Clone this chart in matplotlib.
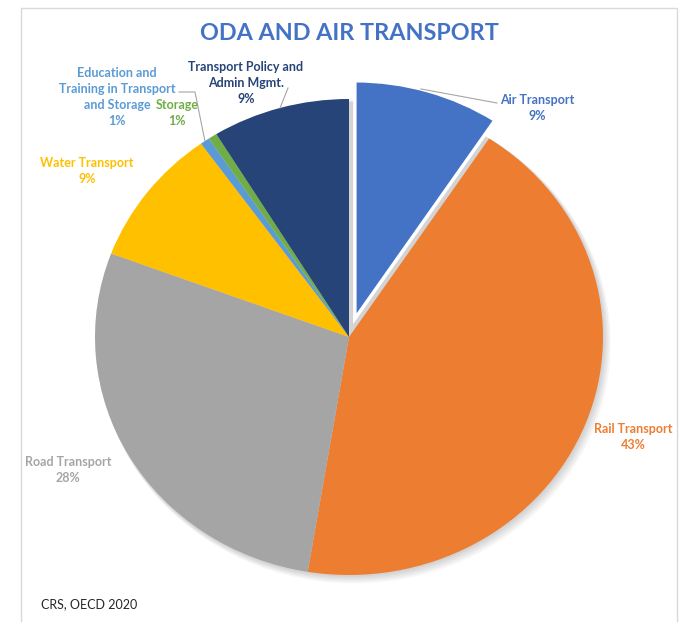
import matplotlib
matplotlib.use('Agg')
import matplotlib.pyplot as plt
import numpy as np
from matplotlib.patches import Rectangle, Ellipse
from matplotlib.lines import Line2D

# ---- data ----
categories = ["Air Transport", "Rail Transport", "Road Transport", "Water Transport",
              "Education and\nTraining in Transport\nand Storage", "Storage",
              "Transport Policy and\nAdmin Mgmt."]
shares = [9.3, 43.3, 28.1, 9.4, 0.6, 0.55, 8.75]
colors = ["#4472C4", "#ED7D31", "#A5A5A5", "#FFC000", "#5B9BD5", "#70AD47", "#264478"]
title = "ODA AND AIR TRANSPORT"
source = "CRS, OECD 2020"

# ---- layout ----
W, H = 682, 622
fig = plt.figure(figsize=(W / 100, H / 100), dpi=100)
fig.patch.set_facecolor('white')


def fx(x):
    return x / W


def fy(y):
    return 1 - y / H


# frame
fig.add_artist(Rectangle((fx(21), fy(640)), fx(677) - fx(21), fy(8) - fy(640),
                         transform=fig.transFigure, fill=False, edgecolor='#D9D9D9', linewidth=1))

cx, cy, rx, ry = 349, 337, 254, 238
lim = 1.2
ax = fig.add_axes([fx(cx - rx * lim), fy(cy + ry * lim), 2 * rx * lim / W, 2 * ry * lim / H])

# soft shadow
for k in range(1, 6):
    ax.add_patch(Ellipse((k * 0.004, -k * 0.005), 2.0 + 0.004 * k, 2.0 + 0.004 * k,
                         facecolor='#000000', alpha=0.035, edgecolor='none', zorder=0))

explode = [0.08, 0, 0, 0, 0, 0, 0]
wedges, _ = ax.pie(shares, colors=colors, startangle=90, counterclock=False,
                   explode=explode, wedgeprops=dict(linewidth=0))
wedges[0].set_edgecolor('white')
wedges[0].set_linewidth(2.5)
ax.set_aspect('auto')
ax.set_xlim(-lim, lim)
ax.set_ylim(-lim, lim)
ax.axis('off')

total = sum(shares)
labels = [f"{c}\n{v / total * 100:.0f}%" for c, v in zip(categories, shares)]

label_pos = [(537, 108), (633, 437), (68, 470), (87, 171), (117, 97), (177, 113), (246, 83)]
font = 'Lato'
line_h = 16
for lab, col, (px, py) in zip(labels, colors, label_pos):
    lines = lab.split('\n')
    n = len(lines)
    for i, ln in enumerate(lines):
        yy = py + (i - (n - 1) / 2) * line_h
        fig.text(fx(px), fy(yy), ln, ha='center', va='center', color=col, fontsize=9,
                 fontweight='bold', family=font)


def arc_point(w, t):
    th = np.deg2rad(w.theta1 + t * (w.theta2 - w.theta1))
    p = np.array(w.center) + w.r * np.array([np.cos(th), np.sin(th)])
    return fig.transFigure.inverted().transform(ax.transData.transform(p))


lc = '#A6A6A6'
# Air leader
p = arc_point(wedges[0], 0.55)
fig.add_artist(Line2D([p[0], fx(497)], [p[1], fy(103)], transform=fig.transFigure, color=lc, lw=0.8))
# Policy leader
p = arc_point(wedges[6], 0.5)
fig.add_artist(Line2D([p[0], fx(288)], [p[1], fy(88)], transform=fig.transFigure, color=lc, lw=0.8))
# Education leader
p = arc_point(wedges[4], 0.5)
fig.add_artist(Line2D([fx(179), fx(195), p[0]], [fy(92), fy(92), p[1]], transform=fig.transFigure,
                      color=lc, lw=0.8))

fig.text(fx(349), fy(33), title, ha='center', va='center', color='#4472C4', fontsize=16.8,
         fontweight='bold', family=font)
fig.text(fx(41), fy(604), source, ha='left', va='center', color='#262626', fontsize=9, family=font)

fig.savefig('out.png', dpi=100)
